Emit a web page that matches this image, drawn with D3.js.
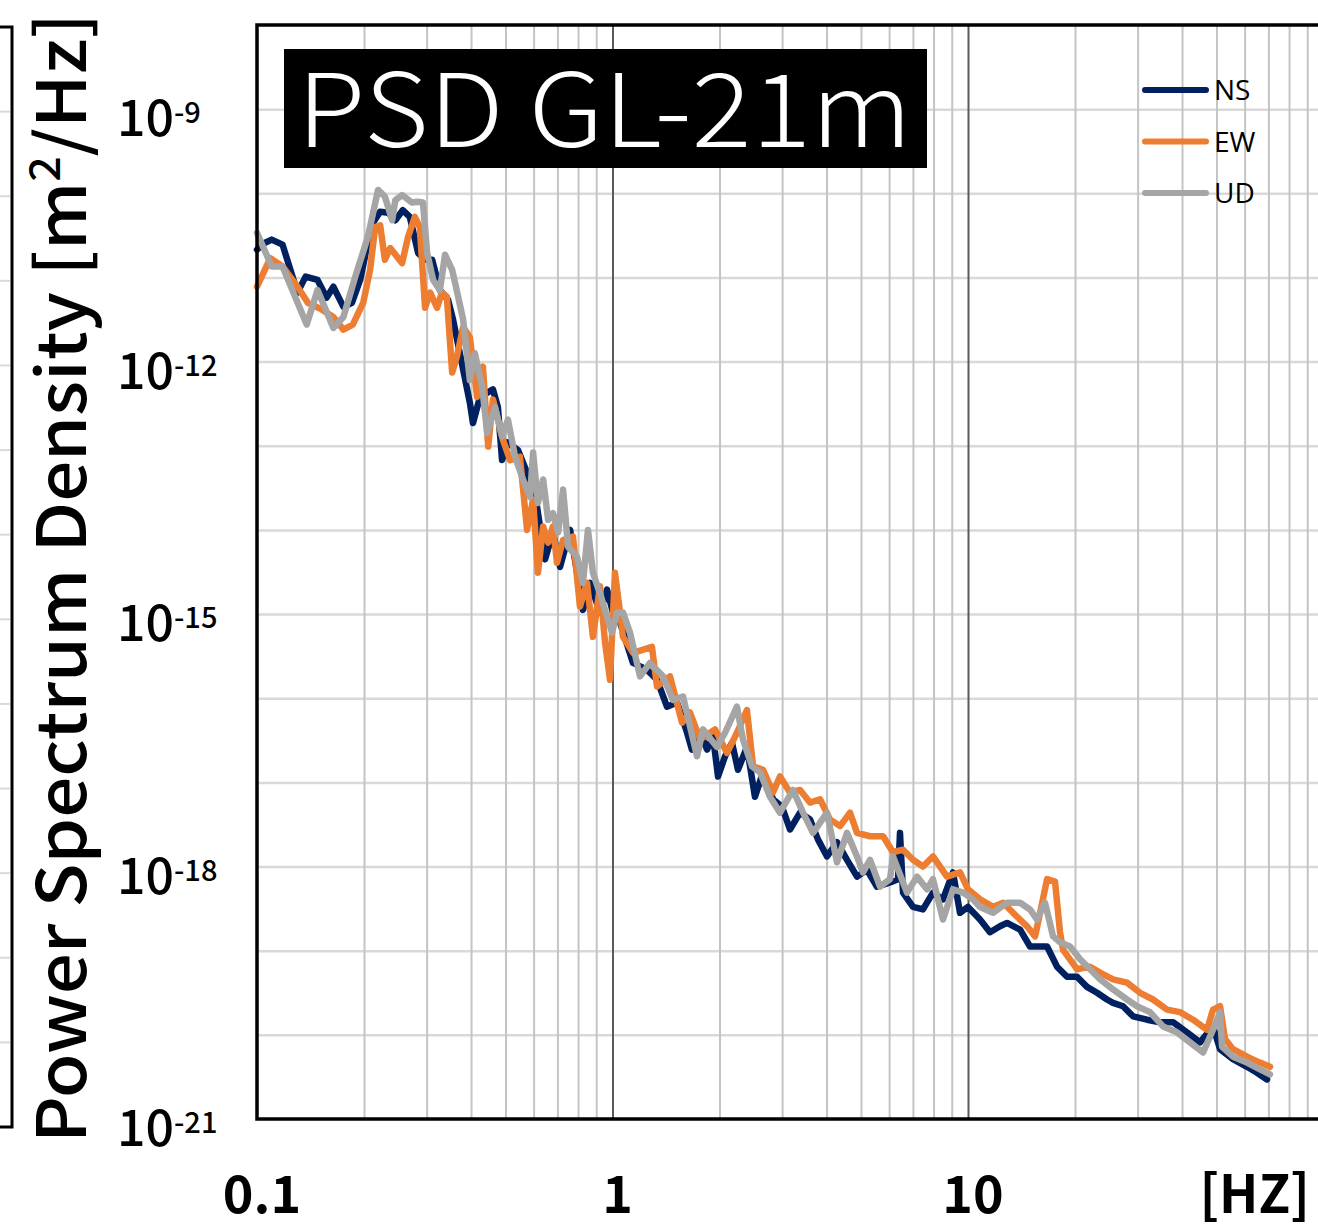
<!DOCTYPE html>
<html><head><meta charset="utf-8">
<script src="https://cdn.jsdelivr.net/npm/d3@7"></script>
<style>
html,body{margin:0;padding:0;background:#fff;}
svg{display:block;}
</style></head><body>
<svg id="chart" width="1318" height="1230"></svg>
<script>
// ---- data (frequency in Hz, PSD given as log10 of m^2/Hz) ----
const seriesNames = ["NS", "EW", "UD"];
const seriesColors = ["#002060", "#ED7D31", "#A5A5A5"];

const nsFreq = [0.100,0.105,0.110,0.118,0.130,0.137,0.148,0.157,0.164,0.175,0.185,0.195,0.205,0.212,0.222,0.234,0.245,0.257,0.269,0.284,0.297,0.311,0.327,0.345,0.356,0.372,0.397,0.405,0.424,0.461,0.476,0.489,0.508,0.542,0.575,0.613,0.646,0.680,0.712,0.760,0.795,0.826,0.865,0.922,0.965,1.003,1.050,1.142,1.250,1.334,1.423,1.519,1.621,1.673,1.763,1.845,1.918,1.981,2.073,2.169,2.254,2.389,2.516,2.651,2.828,2.998,3.157,3.369,3.594,3.786,4.013,4.281,4.567,4.873,5.198,5.546,6.034,6.355,6.437,6.564,7.003,7.470,7.971,8.504,9.075,9.495,10.0,10.81,11.53,12.30,12.88,14.01,14.94,16.69,17.80,18.99,20.26,21.61,23.07,24.60,25.58,27.29,29.12,31.89,34.68,37.73,41.30,44.93,48.89,51.16,55.65,60.93,65.0,69.37];
const nsExp = [-10.67,-10.59,-10.55,-10.61,-11.18,-10.99,-11.03,-11.24,-11.11,-11.35,
-11.30,-11.03,-10.59,-10.35,-10.22,-10.23,-10.32,-10.20,-10.28,-10.71,
-10.79,-10.79,-11.15,-11.27,-11.50,-11.90,-12.49,-12.73,-12.42,-12.33,
-12.54,-13.17,-12.96,-13.05,-13.32,-13.72,-14.35,-14.03,-14.44,-14.00,
-14.51,-14.95,-14.63,-14.98,-14.71,-14.98,-15.10,-15.58,-15.66,-15.78,
-16.10,-16.05,-16.41,-16.61,-16.41,-16.61,-16.46,-16.93,-16.69,-16.53,
-16.85,-16.58,-17.17,-16.88,-17.20,-17.29,-17.56,-17.36,-17.44,-17.68,
-17.88,-17.71,-17.92,-18.12,-18.04,-18.24,-18.19,-18.15,-17.60,-18.31,
-18.48,-18.51,-18.31,-18.39,-18.07,-18.55,-18.48,-18.63,-18.78,-18.71,
-18.67,-18.75,-18.95,-18.95,-19.19,-19.31,-19.31,-19.43,-19.50,-19.58,
-19.62,-19.66,-19.78,-19.82,-19.85,-19.85,-19.97,-20.09,-19.90,-20.17,
-20.29,-20.38,-20.45,-20.53];

const ewFreq = [0.100,0.109,0.118,0.130,0.139,0.152,0.164,0.175,0.186,0.199,
0.208,0.215,0.222,0.229,0.237,0.256,0.266,0.278,0.287,0.297,
0.307,0.321,0.331,0.342,0.354,0.365,0.380,0.397,0.416,0.432,
0.447,0.461,0.492,0.515,0.549,0.575,0.598,0.617,0.638,0.659,
0.680,0.698,0.726,0.774,0.810,0.848,0.881,0.922,0.953,0.984,
1.016,1.050,1.070,1.142,1.291,1.334,1.451,1.569,1.652,1.763,
1.943,2.100,2.239,2.389,2.485,2.651,2.828,2.959,3.157,3.369,
3.594,3.835,4.091,4.365,4.657,4.873,5.302,5.769,6.152,6.564,
7.003,7.470,7.971,8.727,9.495,10.0,10.81,11.76,12.55,13.39,
14.66,15.44,15.95,16.69,17.57,18.15,18.51,20.26,22.04,23.51,
25.58,28.01,30.47,33.15,36.29,39.48,42.95,47.03,48.89,51.16,
52.84,55.65,60.93,66.28,70.71];
const ewExp = [-11.11,-10.77,-10.87,-11.11,-11.30,-11.38,-11.47,-11.62,-11.56,-11.30,
-10.91,-10.40,-10.38,-10.79,-10.65,-10.83,-10.52,-10.28,-10.40,-11.36,
-11.18,-11.36,-11.18,-11.23,-12.13,-11.94,-11.59,-11.71,-12.42,-12.06,
-13.01,-12.45,-12.93,-13.17,-13.13,-14.00,-13.64,-14.51,-13.96,-14.15,
-13.96,-14.39,-14.12,-14.08,-14.91,-14.63,-15.27,-14.67,-15.34,-15.78,
-14.51,-14.98,-15.27,-15.46,-15.39,-15.86,-15.74,-16.29,-16.17,-16.49,
-16.37,-16.65,-16.41,-16.14,-16.81,-16.85,-17.12,-16.93,-17.12,-17.09,
-17.24,-17.20,-17.44,-17.52,-17.36,-17.60,-17.64,-17.64,-17.83,-17.80,
-17.92,-18.00,-17.88,-18.12,-18.07,-18.27,-18.39,-18.48,-18.43,-18.55,
-18.71,-18.83,-18.55,-18.15,-18.18,-18.78,-18.99,-19.22,-19.19,-19.26,
-19.34,-19.38,-19.50,-19.58,-19.70,-19.73,-19.82,-19.94,-19.70,-19.66,
-20.05,-20.17,-20.26,-20.33,-20.38];

const udFreq = [0.100,0.110,0.118,0.128,0.138,0.148,0.164,0.175,0.189,0.205,
0.219,0.229,0.240,0.245,0.256,0.273,0.282,0.293,0.301,0.313,
0.327,0.338,0.354,0.368,0.380,0.397,0.410,0.430,0.444,0.467,
0.489,0.508,0.532,0.560,0.586,0.598,0.617,0.638,0.659,0.680,
0.703,0.726,0.750,0.795,0.826,0.853,0.881,0.934,0.965,0.997,
1.030,1.070,1.120,1.195,1.275,1.387,1.480,1.579,1.729,1.797,
1.968,2.073,2.239,2.328,2.469,2.600,2.773,2.959,3.219,3.435,
3.664,4.013,4.281,4.567,4.873,5.064,5.302,5.655,6.034,6.152,
6.737,7.187,7.667,7.971,8.504,9.075,9.681,10.33,10.81,11.76,
12.88,14.01,14.94,15.64,16.47,17.35,18.15,19.36,20.65,22.04,
23.51,25.58,28.01,29.88,32.51,35.37,38.71,42.12,45.83,48.89,
51.16,51.82,55.65,60.93,66.28,70.71];
const udExp = [-10.47,-10.87,-10.87,-11.23,-11.56,-11.15,-11.60,-11.47,-10.99,-10.52,
-9.96,-10.04,-10.32,-10.08,-10.02,-10.11,-10.10,-10.11,-10.71,-11.03,
-11.15,-10.73,-10.91,-11.23,-11.50,-12.22,-11.90,-12.30,-12.85,-12.54,
-12.89,-12.69,-13.13,-13.40,-13.61,-13.08,-13.68,-13.40,-13.88,-13.80,
-14.03,-13.52,-14.20,-14.32,-14.63,-14.00,-14.51,-14.83,-15.03,-15.22,
-14.98,-14.98,-15.22,-15.74,-15.58,-15.74,-16.02,-15.98,-16.69,-16.37,
-16.58,-16.41,-16.10,-16.49,-16.81,-16.88,-17.17,-17.36,-17.09,-17.36,
-17.60,-17.36,-17.95,-17.60,-17.88,-18.07,-17.92,-18.24,-18.15,-17.88,
-18.31,-18.12,-18.27,-18.15,-18.63,-18.27,-18.31,-18.39,-18.48,-18.55,
-18.43,-18.43,-18.51,-18.63,-18.43,-18.83,-18.90,-18.95,-19.10,-19.22,
-19.34,-19.46,-19.58,-19.66,-19.73,-19.90,-19.97,-20.09,-20.21,-19.94,
-19.73,-20.14,-20.26,-20.33,-20.41,-20.47];

const xTickValues = [0.1, 1, 10];
const xTickLabels = ["0.1", "1", "10"];
const xUnitLabel = "[HZ]";
const yTickExponents = [-9, -12, -15, -18, -21];
const titleText = "PSD GL-21m";
const yTitleMain = "Power Spectrum Density [m";
const yTitleSup = "2";
const yTitleEnd = "/Hz]";

// ---- layout ----
const svg = d3.select("#chart");
const W = 1318, H = 1230;
const L = 257, T = 25, B = 1119, R = 1323.5;
const x = d3.scaleLog().domain([0.1, 100]).range([L, R]);
const y = d3.scaleLog().domain([1e-21, 1e-8]).range([B, T]);
const jp = "'Noto Sans CJK JP','Noto Sans',sans-serif";

// remnant of neighbouring panel on the far left
const rem = svg.append("g");
const remY = d3.scaleLinear().domain([0, 13]).range([27, 1127]);
d3.range(1, 13).forEach(i => {
  rem.append("line").attr("x1", 0).attr("x2", 10).attr("y1", remY(i)).attr("y2", remY(i))
    .attr("stroke", "#d9d9d9").attr("stroke-width", 2);
});
rem.append("path").attr("d", `M0,${remY(0)}H12V${remY(13)}H0`).attr("fill", "none")
  .attr("stroke", "#000").attr("stroke-width", 3);

// horizontal grid (every decade)
const yGrid = d3.range(-20, -8).map(e => Math.pow(10, e));
const gy = svg.append("g").attr("transform", `translate(${L},0)`)
  .call(d3.axisLeft(y).tickValues(yGrid).tickSize(-(W - L)).tickFormat(""));
gy.select(".domain").remove();
gy.selectAll("line").attr("stroke", "#d9d9d9").attr("stroke-width", 2.5);

// vertical grid
const allX = x.ticks();
const isMajor = v => Math.abs(Math.log10(v) - Math.round(Math.log10(v))) < 1e-9;
const minorX = allX.filter(v => !isMajor(v));
const majorX = allX.filter(v => isMajor(v) && v > 0.1 && v < 100);
const gxm = svg.append("g").attr("transform", `translate(0,${B})`)
  .call(d3.axisBottom(x).tickValues(minorX).tickSize(-(B - T)).tickFormat(""));
gxm.select(".domain").remove();
gxm.selectAll("line").attr("stroke", "#c4c4c4").attr("stroke-width", 2);
const gxM = svg.append("g").attr("transform", `translate(0,${B})`)
  .call(d3.axisBottom(x).tickValues(majorX).tickSize(-(B - T)).tickFormat(""));
gxM.select(".domain").remove();
gxM.selectAll("line").attr("stroke", "#5a5a5a").attr("stroke-width", 2);

// data lines
const mk = (fs, es) => fs.map((f, i) => ({ f: f, p: Math.pow(10, es[i]) }));
const series = [mk(nsFreq, nsExp), mk(ewFreq, ewExp), mk(udFreq, udExp)];
const line = d3.line().x(d => x(d.f)).y(d => y(d.p));
series.forEach((s, i) => {
  svg.append("path").datum(s).attr("d", line).attr("fill", "none")
    .attr("stroke", seriesColors[i]).attr("stroke-width", 6.5)
    .attr("stroke-linejoin", "round").attr("stroke-linecap", "round");
});

// frame
svg.append("path").attr("d", `M${W + 5},${T}H${L}V${B}H${W + 5}`)
  .attr("fill", "none").attr("stroke", "#000").attr("stroke-width", 3.5);

// title box
const tb = svg.append("g");
tb.append("rect").attr("x", 284).attr("y", 49).attr("width", 643).attr("height", 119).attr("fill", "#000");
tb.append("text").attr("x", 297).attr("y", 147).attr("fill", "#fff")
  .attr("font-family", jp).attr("font-size", 102).attr("font-weight", 300)
  .attr("textLength", 615).attr("lengthAdjust", "spacingAndGlyphs")
  .text(titleText);

// legend
const lg = svg.append("g");
seriesNames.forEach((n, i) => {
  const ly = 90 + i * 51.5;
  lg.append("line").attr("x1", 1145).attr("x2", 1206).attr("y1", ly).attr("y2", ly)
    .attr("stroke", seriesColors[i]).attr("stroke-width", 6).attr("stroke-linecap", "round");
  lg.append("text").attr("x", 1214).attr("y", ly + 10)
    .attr("font-family", "'Open Sans',sans-serif").attr("font-size", 28).attr("fill", "#000").text(n);
});

// y tick labels
yTickExponents.forEach(e => {
  const t = svg.append("text").attr("x", 117).attr("y", y(Math.pow(10, e)) + 27)
    .attr("font-family", jp).attr("font-weight", 500).attr("fill", "#000");
  t.append("tspan").attr("font-size", 50).text("10");
  t.append("tspan").attr("font-size", 29).attr("dy", -13).text(String(e));
});

// x tick labels
xTickValues.forEach((v, i) => {
  svg.append("text").attr("x", x(v) + 5).attr("y", 1213).attr("text-anchor", "middle")
    .attr("font-family", jp).attr("font-weight", 700).attr("font-size", 52).attr("fill", "#000")
    .text(xTickLabels[i]);
});
svg.append("text").attr("x", 1310).attr("y", 1213).attr("text-anchor", "end")
  .attr("font-family", jp).attr("font-weight", 700).attr("font-size", 52).attr("fill", "#000")
  .text(xUnitLabel);

// y axis title
const yt = svg.append("text").attr("transform", "translate(86,1143) rotate(-90)")
  .attr("font-family", jp).attr("font-weight", 500).attr("font-size", 68).attr("fill", "#000")
  .attr("textLength", 1130).attr("lengthAdjust", "spacingAndGlyphs");
yt.append("tspan").text(yTitleMain);
yt.append("tspan").attr("font-size", 42).attr("dy", -26).text(yTitleSup);
yt.append("tspan").attr("font-size", 68).attr("dy", 26).text(yTitleEnd);
</script>
</body></html>
